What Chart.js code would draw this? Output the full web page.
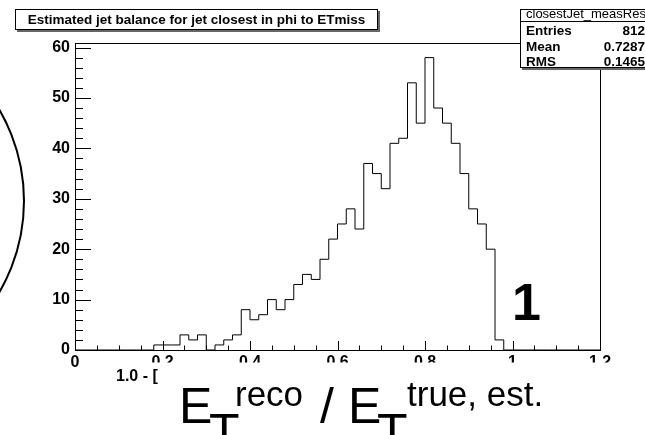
<!DOCTYPE html>
<html>
<head>
<meta charset="utf-8">
<script src="https://cdn.jsdelivr.net/npm/chart.js@4/dist/chart.umd.min.js"></script>
<style>
  html, body { margin: 0; padding: 0; background: #fff; overflow: hidden; }
  #wrap { position: relative; width: 645px; height: 435px; }
  canvas { display: block; }
</style>
</head>
<body>
<div id="wrap"><canvas id="c" width="645" height="435"></canvas></div>
<script>
// Histogram: 60 bins of width 0.02 between 0 and 1.2
const histTitle = 'Estimated jet balance for jet closest in phi to ETmiss';
const histName = 'closestJet_measRes';
const statLabels = ['Entries', 'Mean', 'RMS'];
const statValues = ['812', '0.7287', '0.1465'];
const binLow = 0;
const binHigh = 1.2;
const binCounts = [
  0, 0, 0, 0, 0, 0, 0, 0, 0, 1,
  1, 1, 3, 2, 3, 0, 1, 2, 3, 8,
  6, 7, 10, 8, 10, 13, 15, 14, 18, 22,
  25, 28, 24, 37, 35, 32, 41, 42, 53, 45,
  58, 48, 45, 41, 35, 28, 25, 20, 2, 0,
  0, 0, 0, 0, 0, 0, 0, 0, 0, 0
];
const xTickValues = [0, 0.2, 0.4, 0.6, 0.8, 1, 1.2];
const xTickLabels = ['0', '0.2', '0.4', '0.6', '0.8', '1', '1.2'];
const yTickValues = [0, 10, 20, 30, 40, 50, 60];
const yTickLabels = ['0', '10', '20', '30', '40', '50', '60'];
const yMax = 60.9;
const xAxisTitle = '1.0 - [';
const bigLabel = '1';

const FONT = "'Liberation Sans', Arial, Helvetica, sans-serif";

// bin lower edges + closing edge, for a stepped outline
const binWidth = (binHigh - binLow) / binCounts.length;
const outline = binCounts.map((c, i) => ({ x: binLow + i * binWidth, y: c }));
outline.push({ x: binHigh, y: binCounts[binCounts.length - 1] });

function inkText(ctx, text, left, baseline) {
  const m = ctx.measureText(text);
  ctx.fillText(text, left + m.actualBoundingBoxLeft, baseline);
}

const decorations = {
  id: 'decorations',
  afterDraw(chart) {
    const ctx = chart.ctx;
    const a = chart.chartArea;
    const xs = chart.scales.x;
    const ys = chart.scales.y;
    ctx.save();
    ctx.strokeStyle = '#000';
    ctx.fillStyle = '#000';
    ctx.lineWidth = 1;

    // frame
    ctx.strokeRect(a.left + 0.5, a.top + 0.5, a.right - a.left, a.bottom - a.top);

    // inward ticks on the y axis
    ctx.beginPath();
    for (let k = 0; k * 2 <= 60; k++) {
      const v = k * 2;
      const y = Math.round(ys.getPixelForValue(v)) + 0.5;
      const len = (v % 10 === 0) ? 16 : 8;
      ctx.moveTo(a.left, y);
      ctx.lineTo(a.left + len, y);
    }
    // inward ticks on the x axis
    for (let k = 0; k <= 24; k++) {
      const v = k * 0.05;
      const x = Math.round(xs.getPixelForValue(v)) + 0.5;
      const len = (k % 4 === 0) ? 9 : 4.5;
      ctx.moveTo(x, a.bottom);
      ctx.lineTo(x, a.bottom - len);
    }
    ctx.stroke();

    // lower band covered by the large axis label
    ctx.fillStyle = '#fff';
    ctx.fillRect(100, 362.5, 545, 73);
    ctx.fillStyle = '#000';

    // clipped x-axis title
    ctx.save();
    ctx.beginPath();
    ctx.rect(100, 362, 61, 30);
    ctx.clip();
    ctx.font = 'bold 16px ' + FONT;
    inkText(ctx, xAxisTitle, 117, 381);
    ctx.restore();

    // large label E_T^reco / E_T^true, est.
    ctx.font = '50px ' + FONT;
    inkText(ctx, 'E', 183, 423);
    inkText(ctx, 'T', 210, 449);
    inkText(ctx, '/', 320, 423);
    inkText(ctx, 'E', 352, 423);
    inkText(ctx, 'T', 378, 449);
    ctx.font = '35px ' + FONT;
    inkText(ctx, 'reco', 237, 405.5);
    inkText(ctx, 'true, est.', 407, 406);

    // big "1"
    ctx.font = 'bold 52px ' + FONT;
    inkText(ctx, bigLabel, 515, 319.5);

    // arc on the left
    ctx.beginPath();
    ctx.lineWidth = 2;
    ctx.arc(-157, 201, 181, -Math.PI / 2, Math.PI / 2);
    ctx.stroke();
    ctx.lineWidth = 1;

    // title box
    ctx.fillStyle = '#666';
    ctx.fillRect(17, 11, 363, 21);
    ctx.fillStyle = '#fff';
    ctx.fillRect(15, 9, 363, 21);
    ctx.strokeStyle = '#000';
    ctx.strokeRect(15.5, 9.5, 362, 20);
    ctx.fillStyle = '#000';
    ctx.font = 'bold 13.5px ' + FONT;
    ctx.textAlign = 'center';
    ctx.fillText(histTitle, 196.5, 24);
    ctx.textAlign = 'left';

    // statistics box
    ctx.fillStyle = '#666';
    ctx.fillRect(522, 11, 130, 59);
    ctx.fillStyle = '#fff';
    ctx.fillRect(520, 9, 130, 59);
    ctx.strokeRect(520.5, 9.5, 130, 58);
    ctx.beginPath();
    ctx.moveTo(520, 21.5);
    ctx.lineTo(650, 21.5);
    ctx.stroke();
    ctx.fillStyle = '#000';
    ctx.font = '13px ' + FONT;
    inkText(ctx, histName, 526, 17.5);
    ctx.font = 'bold 13.5px ' + FONT;
    const rowBase = [35, 50.5, 66];
    statLabels.forEach((lab, i) => {
      inkText(ctx, lab, 526, rowBase[i]);
      ctx.textAlign = 'right';
      ctx.fillText(statValues[i], 645, rowBase[i]);
      ctx.textAlign = 'left';
    });

    ctx.restore();
  }
};

new Chart(document.getElementById('c'), {
  type: 'line',
  data: {
    datasets: [{
      data: outline,
      stepped: true,
      borderColor: '#000',
      borderWidth: 1,
      pointRadius: 0,
      fill: false,
      tension: 0
    }]
  },
  options: {
    responsive: false,
    animation: false,
    devicePixelRatio: 1,
    events: [],
    layout: { padding: { left: 0, right: 45, top: 43, bottom: 0 } },
    plugins: {
      legend: { display: false },
      title: { display: false },
      tooltip: { enabled: false }
    },
    scales: {
      x: {
        type: 'linear',
        min: binLow,
        max: binHigh,
        grid: { display: false, drawTicks: false },
        border: { display: false },
        afterBuildTicks: s => { s.ticks = xTickValues.map(v => ({ value: v })); },
        afterFit: s => { s.height = 85; },
        ticks: {
          callback: (v, i) => xTickLabels[i],
          font: { family: FONT, weight: 'bold', size: 16 },
          color: '#000',
          padding: 3,
          maxRotation: 0,
          autoSkip: false
        }
      },
      y: {
        type: 'linear',
        min: 0,
        max: yMax,
        grid: { display: false, drawTicks: false },
        border: { display: false },
        afterBuildTicks: s => { s.ticks = yTickValues.map(v => ({ value: v })); },
        afterFit: s => { s.width = 75; },
        ticks: {
          callback: (v, i) => yTickLabels[i],
          font: { family: FONT, weight: 'bold', size: 16 },
          color: '#000',
          padding: 5,
          autoSkip: false
        }
      }
    }
  },
  plugins: [decorations]
});
</script>
</body>
</html>
